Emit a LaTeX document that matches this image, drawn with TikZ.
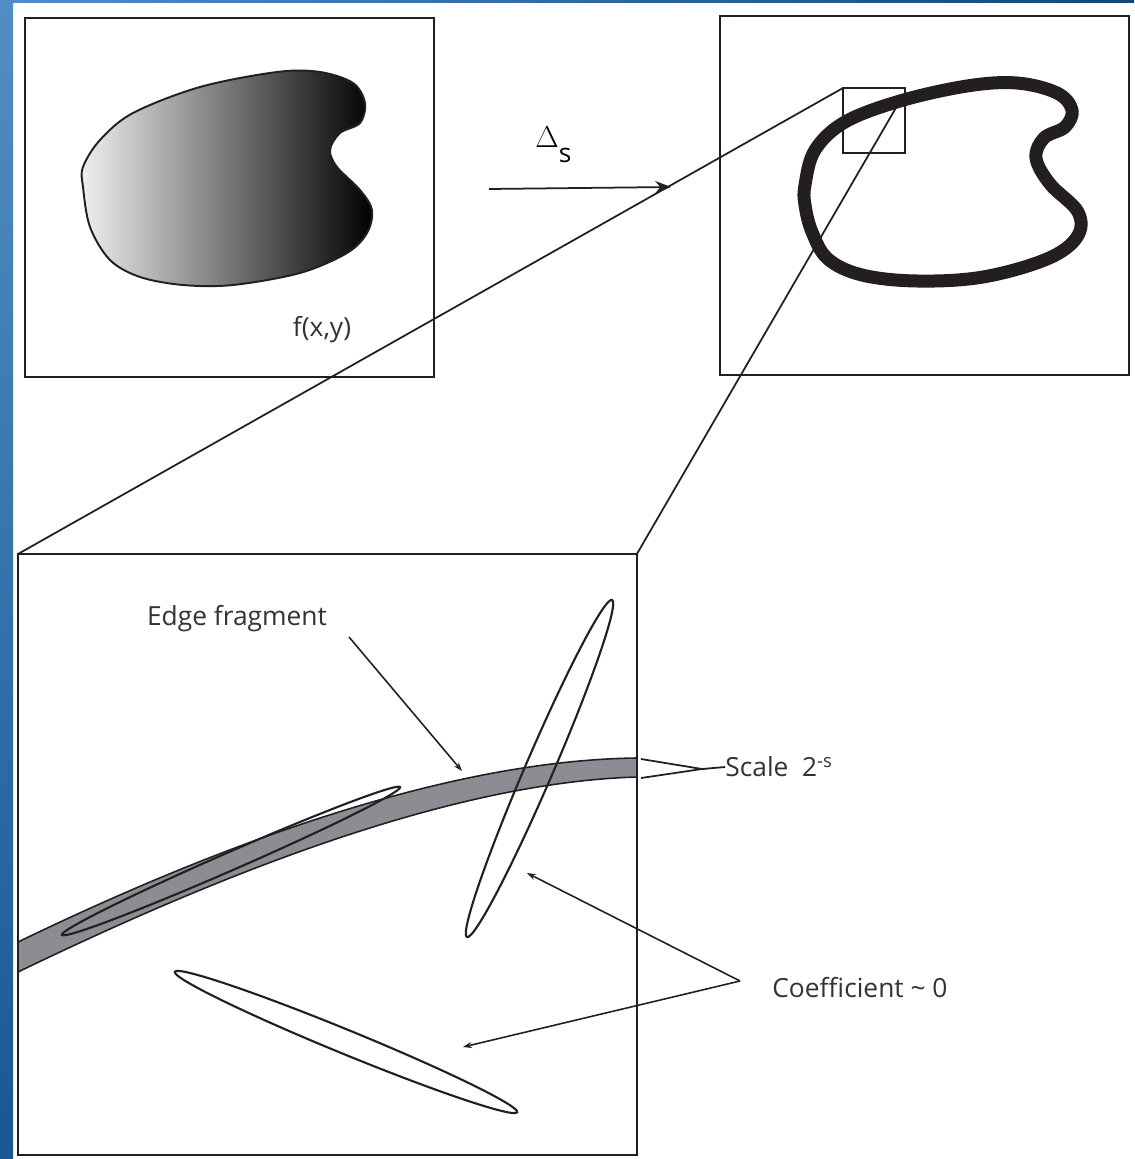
\documentclass[tikz,border=0pt]{standalone}
\usepackage{fontspec}
\setmainfont{Open Sans}
\usepackage{tikz}
\usetikzlibrary{positioning,arrows.meta,calc}

\definecolor{bandgray}{RGB}{140,140,146}
\definecolor{slideblueA}{RGB}{82,142,196}
\definecolor{slideblueB}{RGB}{24,88,146}
\definecolor{inkblack}{RGB}{35,31,32}

\begin{document}
\begin{tikzpicture}[x=0.02cm, y=-0.02cm,
    panel/.style={rectangle, draw=inkblack, line width=1.2pt, inner sep=0pt, outer sep=0pt, anchor=north west},
    zoomline/.style={draw=inkblack, line width=1pt},
    ellip/.style={draw=inkblack, line width=1.2pt},
    pointer/.style={-{Stealth[length=5pt,width=3.5pt]}, draw=inkblack, line width=0.9pt},
    maparrow/.style={-{Stealth[length=9pt,width=7pt]}, draw=inkblack, line width=1pt},
    lbl/.style={font=\fontsize{15}{18}\selectfont, text=black!80, inner sep=0pt}
]
\useasboundingbox (0,0) rectangle (1134,1159);
\fill[white] (0,0) rectangle (1134,1159);

% slide border
\shade[top color=slideblueA, bottom color=slideblueB] (0,0) rectangle (13,1159);
\shade[left color=slideblueA, right color=slideblueB!80!black] (0,0) rectangle (1134,3);

% Image f(x,y)
\node[panel, minimum width=8.18cm, minimum height=7.18cm] (fpanel) at (25,18) {};
\shadedraw[left color=white!94!black, right color=black, draw=inkblack, line width=1.1pt]
  plot[smooth cycle, tension=0.55] coordinates {
    (83,167) (100,140) (133,113) (200,87) (277,72) (320,72) (353,83) (365,103)
    (360,123) (340,133) (330,150) (337,167) (360,190) (372,210) (367,233)
    (347,253) (300,273) (233,285) (183,285) (140,277) (110,260) (90,227) (83,187)};
\node[lbl] (fxy) at (322,330) {f(x,y)};

% Edge image
\node[panel, minimum width=8.18cm, minimum height=7.18cm] (edgepanel) at (720,16) {};
\node[panel, line width=0.9pt, minimum width=1.24cm, minimum height=1.30cm] (zoomsq) at (843,88) {};

% zoom lines
\coordinate (sqend) at (897,106);
\node[panel, minimum width=12.38cm, minimum height=12.02cm] (zoompanel) at (18,554) {};
\draw[zoomline] (zoomsq.north west) -- (zoompanel.north west);
\draw[zoomline] (zoompanel.north east) -- (sqend);

\draw[inkblack, line width=7.4pt, line join=round]
  plot[smooth cycle, tension=0.6] coordinates {
    (805,185) (815,150) (845,122) (900,101) (967,86) (1017,83) (1057,93)
    (1072,110) (1065,127) (1044,138) (1036,158) (1050,184) (1078,212)
    (1077,237) (1047,259) (983,277) (917,281) (862,275) (828,259) (812,232) (805,205)};

% mapping arrow
\coordinate (mapin) at (489,189);
\coordinate (mapout) at (671,187);
\draw[maparrow] (mapin) -- (mapout);
\node[anchor=base west, inner sep=0pt] (deltalbl) at (535,147)
  {{\fontsize{16}{18}\selectfont$\Delta$}\raisebox{-8.6pt}{\fontsize{15}{18}\selectfont s}};

% Zoomed fragment
\filldraw[fill=bandgray, draw=inkblack, line width=0.9pt]
  (18,942) .. controls (260,825) and (470,760) .. (637,758)
  -- (637,777) .. controls (470,782) and (260,855) .. (18,972) -- cycle;

\draw[ellip, rotate around={23.6:(231,861)}] (231,861) ellipse [x radius=184.5, y radius=9];
\draw[ellip, rotate around={66.7:(539.5,768.5)}] (539.5,768.5) ellipse [x radius=183.5, y radius=14];
\draw[ellip, rotate around={-22.3:(346,1042)}] (346,1042) ellipse [x radius=185, y radius=12];

% labels and pointers
\node[lbl] (edgelbl) at (237,619) {Edge fragment};
\coordinate (edgefoot) at (349,637);
\coordinate (edgetip) at (462,771);
\draw[pointer] (edgefoot) -- (edgetip);

\node[lbl, anchor=west] (scalelbl) at (725,767) {Scale\ \ 2\textsuperscript{-s}};
\coordinate (bandtop) at (641,759);
\coordinate (bandbot) at (641,778);
\coordinate (scalejoin) at (702,769);
\draw[zoomline] (bandtop) -- (scalejoin) -- (bandbot);
\draw[zoomline] (scalejoin) -- (scalelbl.west);

\node[lbl, anchor=west] (coeflbl) at (772,988) {Coefficient \textasciitilde{} 0};
\coordinate (coefjoin) at (740,981);
\coordinate (coefA) at (527,873);
\coordinate (coefB) at (463,1047);
\draw[pointer] (coefjoin) -- (coefA);
\draw[pointer] (coefjoin) -- (coefB);

\end{tikzpicture}
\end{document}
